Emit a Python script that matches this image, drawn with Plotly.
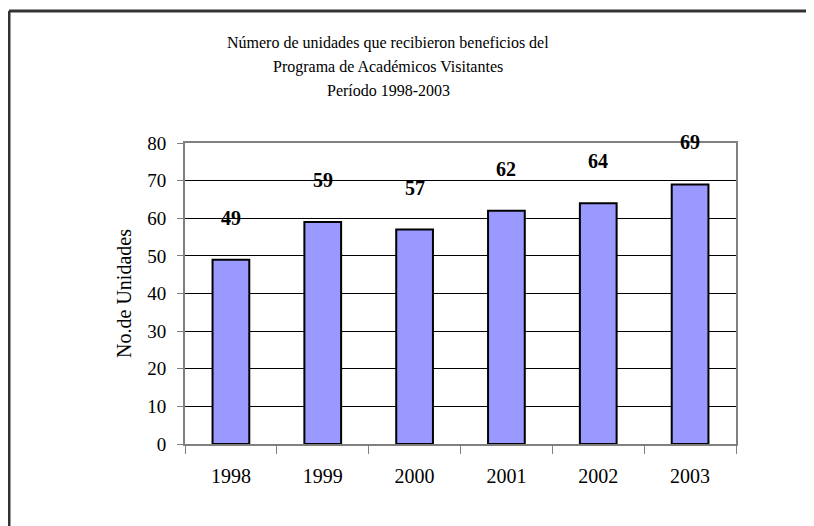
import plotly.graph_objects as go

years = ["1998", "1999", "2000", "2001", "2002", "2003"]
unidades = [49, 59, 57, 62, 64, 69]
y_ticks = [0, 10, 20, 30, 40, 50, 60, 70, 80]

title_lines = [
    "Número de unidades que recibieron beneficios del",
    "Programa de Académicos Visitantes",
    "Período 1998-2003",
]
y_title = "No.de Unidades"

FONT = "Liberation Serif, Times New Roman, serif"

# the page body has an 8px margin; figure pixel coords = screen coords - 8
W, H = 814, 526
L, R, T, B = 177, 86, 135, 90
pw, ph = W - L - R, H - T - B

fig = go.Figure()
fig.add_trace(go.Bar(
    x=list(range(len(years))), y=unidades,
    marker=dict(color="#9999FF", line=dict(color="#000000", width=2)),
    hoverinfo="skip",
))

for i, v in enumerate(unidades):
    fig.add_annotation(x=i, y=v, xref="x", yref="y", text=f"<b>{v}</b>",
                       showarrow=False, yanchor="middle", yshift=42,
                       font=dict(family=FONT, size=20, color="#000"))

# title lines (fig pixel centers 35, 59, 82; x center 380)
title_px = [35, 59, 82]
for line, py in zip(title_lines, title_px):
    fig.add_annotation(text=line, xref="paper", yref="paper",
                       x=(380 - L) / pw, y=(H - B - py) / ph,
                       xanchor="center", yanchor="middle", showarrow=False,
                       font=dict(family=FONT, size=16, color="#000"))

fig.update_layout(
    width=W, height=H,
    margin=dict(l=L, r=R, t=T, b=B),
    paper_bgcolor="white", plot_bgcolor="white",
    showlegend=False,
    bargap=0.6,
    font=dict(family=FONT, size=20, color="#000"),
)
fig.update_xaxes(
    range=[-0.5, 5.5], tickvals=list(range(len(years))), ticktext=years,
    showline=True, linecolor="#808080", linewidth=2, mirror=True,
    ticks="", showgrid=False, zeroline=False,
    tickfont=dict(size=20), ticklabelstandoff=13,
)
# boundary ticks for the x axis drawn via an overlaid axis
fig.update_layout(xaxis2=dict(
    overlaying="x", side="bottom", range=[-0.5, 5.5],
    tickvals=[-0.5, 0.5, 1.5, 2.5, 3.5, 4.5, 5.5], showticklabels=False,
    ticks="outside", ticklen=9, tickcolor="#808080", tickwidth=1,
    showgrid=False, zeroline=False, showline=False,
))
fig.add_trace(go.Scatter(x=[None], y=[None], xaxis="x2", yaxis="y", showlegend=False,
                         hoverinfo="skip"))
fig.update_yaxes(
    range=[0, 80], tickvals=y_ticks,
    showline=True, linecolor="#808080", linewidth=2, mirror=True,
    ticks="outside", ticklen=6, tickcolor="#808080",
    showgrid=True, gridcolor="#000000", gridwidth=1,
    zeroline=False, tickfont=dict(size=19), ticklabelstandoff=7,
    title=dict(text=y_title, font=dict(size=20), standoff=10),
)

# outer chart frame (top and left)
x_left = (1 - L) / pw
y_top = (H - B - 3) / ph
fig.add_shape(type="line", xref="paper", yref="paper", x0=x_left, x1=(W + 10 - L) / pw,
              y0=y_top, y1=y_top, line=dict(color="#333333", width=3))
fig.add_shape(type="line", xref="paper", yref="paper", x0=x_left, x1=x_left,
              y0=y_top, y1=-(B + 10) / ph, line=dict(color="#333333", width=3))

fig.write_html("out.html")
